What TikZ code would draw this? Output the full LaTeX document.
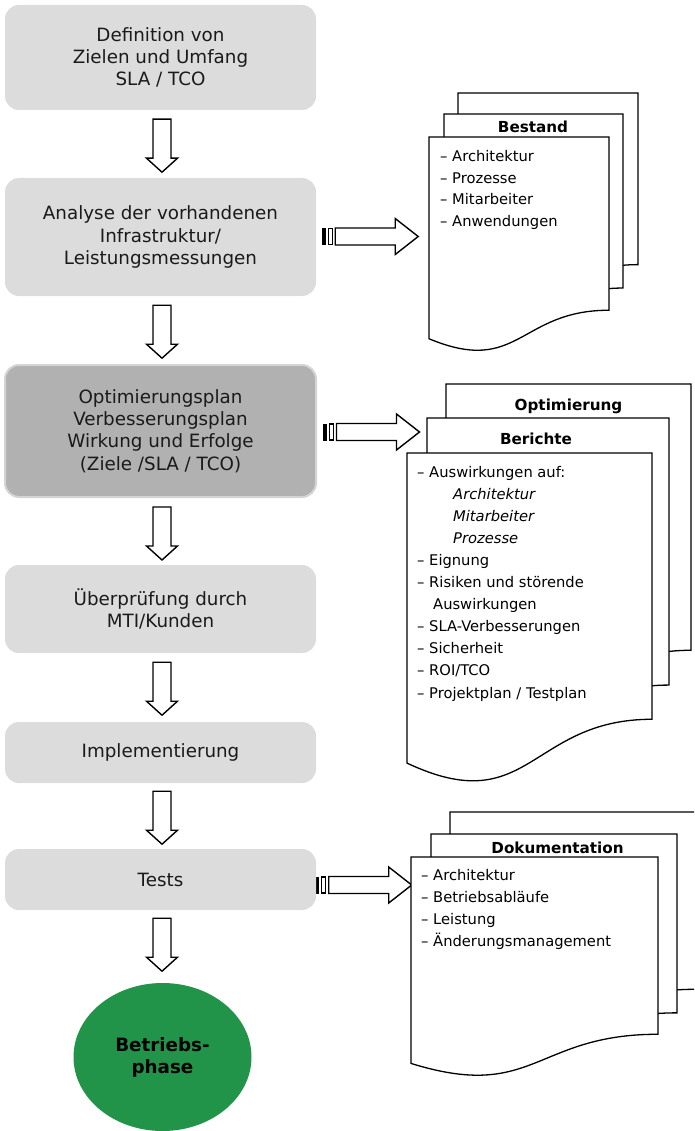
\documentclass[tikz,border=0pt]{standalone}
\usepackage{fontspec}
\setmainfont{DejaVu Sans}
\usetikzlibrary{shapes.geometric,calc,backgrounds}
\definecolor{boxgray}{HTML}{DCDCDC}
\definecolor{boxdark}{HTML}{B1B1B1}
\definecolor{boxdarkline}{HTML}{D4D4D4}
\definecolor{phasegreen}{HTML}{21944A}
\definecolor{boxtext}{HTML}{1A1A1A}

\newcommand{\docpage}[4]{%
  \pgfmathsetmacro{\dpXR}{#1+#3}%
  \pgfmathsetmacro{\dpXM}{#1+#3/2}%
  \pgfmathsetmacro{\dpYR}{#2+0.802*#4}%
  \pgfmathsetmacro{\dpYC}{#2+1.1075*#4}%
  \pgfmathsetmacro{\dpYL}{#2+0.934*#4}%
  \filldraw[page] (#1,#2) -- (\dpXR,#2) -- (\dpXR,\dpYR)
     .. controls (\dpXM,\dpYR) and (\dpXM,\dpYC) .. (#1,\dpYL) -- cycle;}

\begin{document}
\begin{tikzpicture}[x=1pt,y=-1pt,
  box/.style={rounded corners=14pt, fill=boxgray, minimum width=311pt,
    inner sep=0pt, align=center, text=boxtext, font=\fontsize{18.3}{22.3}\selectfont},
  darkbox/.style={box, fill=boxdark, draw=boxdarkline, line width=2pt},
  blockarrow/.style={draw=black, fill=white, line width=1.4pt, line join=miter},
  page/.style={draw=black, fill=white, line width=1.3pt, line join=miter},
  title/.style={anchor=base, inner sep=0pt, font=\fontsize{15.2}{18}\selectfont\bfseries},
  item/.style={anchor=base west, inner sep=0pt, font=\fontsize{14.7}{22}\selectfont},
  itemit/.style={item, font=\fontsize{14.7}{22}\selectfont\itshape},
  darrow/.pic={\filldraw[blockarrow] (-9,0) -- (-9,39) -- (-15.5,39) -- (0,53)
     -- (15.5,39) -- (9,39) -- (9,0) -- cycle;},
  sarrow/.pic={\fill[black] (0,-8.5) rectangle (3.8,8.5);
     \draw[line width=1.3pt] (6.5,-8) rectangle (10.5,8);
     \filldraw[blockarrow] (13.5,-8.5) -- (73.5,-8.5) -- (73.5,-18) -- (96.5,0)
     -- (73.5,18) -- (73.5,8.5) -- (13.5,8.5) -- cycle;}
]
\useasboundingbox (0,0) rectangle (694,1131);
\clip (0,0) rectangle (694,1131);

% process boxes
\node[box, minimum height=105pt] (b1) at (160.5,57.5)
  {Definition von\\Zielen und Umfang\\SLA / TCO};
\node[box, minimum height=118pt] (b2) at (160.5,237)
  {Analyse der vorhandenen\\Infrastruktur/\\Leistungsmessungen};
\node[darkbox, minimum height=132pt] (b3) at (160.5,431)
  {Optimierungsplan\\Verbesserungsplan\\Wirkung und Erfolge\\(Ziele /SLA / TCO)};
\node[box, minimum height=88pt] (b4) at (160.5,609)
  {Überprüfung durch\\MTI/Kunden};
\node[box, minimum height=61pt] (b5) at (160.5,752.5) {Implementierung};
\node[box, minimum height=61pt] (b6) at (160.5,879.5) {Tests};
\node[ellipse, fill=phasegreen, minimum width=178pt, minimum height=148pt,
  inner sep=0pt, align=center, font=\fontsize{18.3}{22}\selectfont\bfseries]
  (b7) at (162.5,1057) {Betriebs-\\phase};

% down arrows
\pic at ($(b1.south)+(1.5,9)$) {darrow};
\pic at ($(b2.south)+(1.5,9)$) {darrow};
\pic at ($(b3.south)+(1.5,9)$) {darrow};
\pic at ($(b4.south)+(1.5,9)$) {darrow};
\pic at ($(b5.south)+(1.5,8)$) {darrow};
\pic at ($(b6.south)+(1.5,8)$) {darrow};

% side arrows
\pic at ($(b2.east)+(5.5,-0.5)$) {sarrow};
\pic at ($(b3.east)+(6,1)$) {sarrow};
\begin{scope}[on background layer]
\pic at ($(b6.east)+(-1,5.5)$) {sarrow};
\end{scope}

% Bestand stack
\docpage{458}{93}{180}{214}
\docpage{444}{114}{179}{217}
\docpage{429}{137}{180}{216}
\node[title] (tBestand) at (533,133) {Bestand};
\foreach \t [count=\i] in {Architektur,Prozesse,Mitarbeiter,Anwendungen}
  \node[item] (bs\i) at (440,{161.5+(\i-1)*21.6}) {– \t};

% Optimierung / Berichte stack
\docpage{446}{384}{245}{332}
\docpage{427}{418}{242}{333}
\docpage{407}{453}{245}{332}
\node[title] (tOpt) at (568.5,410) {Optimierung};
\node[title] (tBer) at (536,444.3) {Berichte};
\node[item] (br1) at (417,477) {– Auswirkungen auf:};
\node[itemit] (br2) at (453,499.1) {Architektur};
\node[itemit] (br3) at (453,521.2) {Mitarbeiter};
\node[itemit] (br4) at (453,543.3) {Prozesse};
\node[item] (br5) at (417,565.4) {– Eignung};
\node[item] (br6) at (417,587.5) {– Risiken und störende};
\node[item] (br7) at (433,609.6) {Auswirkungen};
\node[item] (br8) at (417,631.7) {– SLA-Verbesserungen};
\node[item] (br9) at (417,653.8) {– Sicherheit};
\node[item] (br10) at (417,675.9) {– ROI/TCO};
\node[item] (br11) at (417,698) {– Projektplan / Testplan};

% Dokumentation stack
\docpage{450}{812}{247}{221}
\docpage{431}{834}{246}{223}
\docpage{411}{857}{247}{221}
\node[title] (tDok) at (557.5,853.3) {Dokumentation};
\foreach \t [count=\i] in {Architektur,Betriebsabläufe,Leistung,Änderungsmanagement}
  \node[item] (dk\i) at (421,{880+(\i-1)*22.3}) {– \t};
\end{tikzpicture}
\end{document}
